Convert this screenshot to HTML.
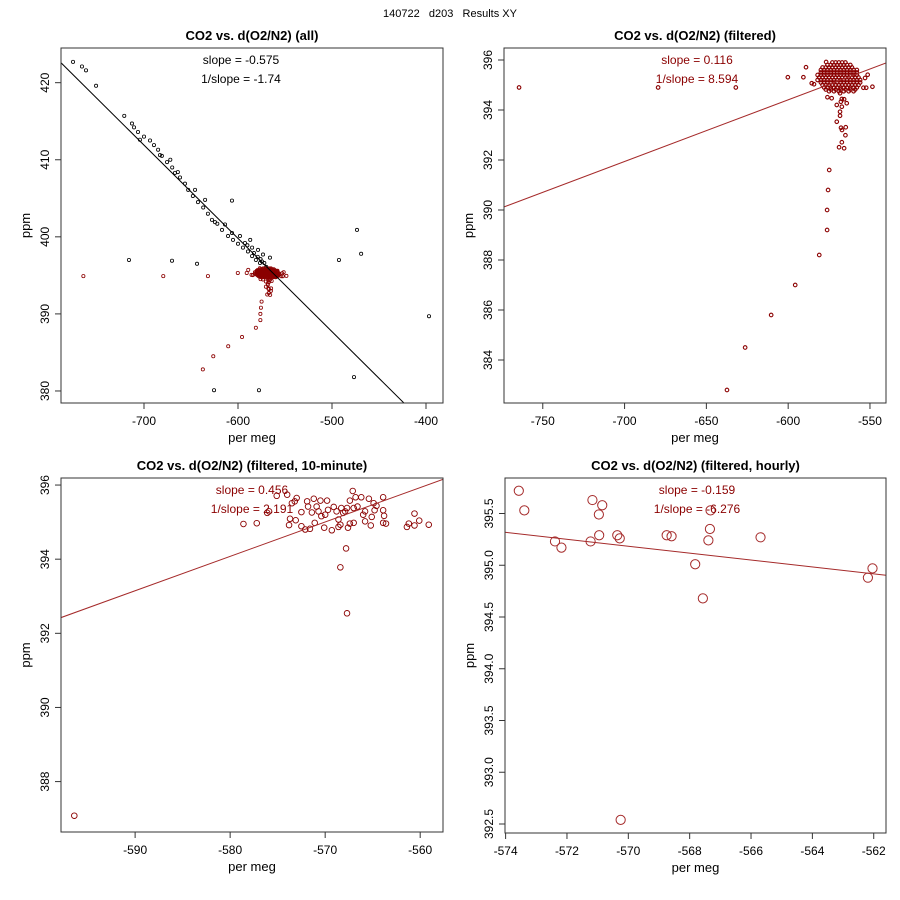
<!DOCTYPE html>
<html><head><meta charset="utf-8"><style>
html,body{margin:0;padding:0;background:#fff;}
svg{display:block;font-family:"Liberation Sans",sans-serif;}
</style></head><body>
<svg id="chart" width="900" height="900" viewBox="0 0 900 900">
<text x="450" y="17" text-anchor="middle" font-size="11" style="white-space:pre">140722   d203   Results XY</text>
</svg>
<script>
// ---------- data ----------
const allBlackX = [-775.5,-766,-761.7,-751,-721,-712.8,-710.6,-706.4,-700,-693.6,-689.4,-685,-681,-675.5,-670,-667,-661.7,-656.4,-653,-648,-642.6,-637,-632,-627.7,-622,-617,-610.6,-605.3,-600,-594.7,-589.4,-585,-581,-576.6,-570,-704.3,-683,-672,-664,-645.7,-635,-624.5,-613.8,-606.4,-592.6,-585,-578.7,-573.4,-566,-574.5,-587,-597.9,-583,-579,-576,-572,-590,-716,-670.2,-643.6,-606.4,-492.6,-473.4,-469,-396.8,-476.6,-577.7,-625.5];
const allBlackY = [422.7,422.1,421.6,419.6,415.7,414.7,414.2,413.6,413,412.5,411.9,411.3,410.5,409.7,409,408.3,407.7,406.9,406.1,405.3,404.5,403.8,403,402.2,401.7,400.9,400.1,399.6,399.1,398.6,398.1,397.5,397,396.6,396.1,412.6,410.6,410,408.4,406.1,404.8,401.9,401.6,400.5,399.2,398.6,398.3,397.7,397.3,396.8,399.6,400.1,397.9,397.4,397.1,396.6,398.9,397,396.9,396.5,404.7,397,400.9,397.8,389.7,381.8,380.1,380.1];

const filtX = [
-573,-571,-569,-567,-565,
-576,-574,-572,-570,-568,-566,-564,-562,
-579,-577,-575,-573,-571,-569,-567,-565,-563,-561,
-580,-578,-576,-574,-572,-570,-568,-566,-564,-562,-560,-558,
-580,-578,-576,-574,-572,-570,-568,-566,-564,-562,-560,-558,
-582,-580,-578,-576,-574,-572,-570,-568,-566,-564,-562,-560,-558,
-581,-579,-577,-575,-573,-571,-569,-567,-565,-563,-561,-559,-557,
-582,-580,-578,-576,-574,-572,-570,-568,-566,-564,-562,-560,-558,-556,
-580,-578,-576,-574,-572,-570,-568,-566,-564,-562,-560,-558,-556,
-579,-577,-575,-573,-571,-569,-567,-565,-563,-561,-559,-557,
-578,-576,-574,-572,-570,-568,-566,-564,-562,-560,-558,
-577,-574,-571,-568,-565,-562,-559,
-575,-572,-569,-566,-563,-560,
-600.2,-590.7,-589.1,-585.6,-584.2,-576.8,-551.4,-548.5,-553,-554,-552.3,
-576,-573.4,-568.3,-567.2,-565.8,-567.8,-564.2,-567.2,-570.3,-568.3,-568.3,-570.3,-567.7,-564.8,-567.1,-565,-567.2,-568.9,-565.8,
-574.9,-575.6,-576.2,-576.2,-581,-595.7,-610.4,-626.3,-637.4,-679.5,-632,-764.5];
const filtY = [
395.9,395.9,395.9,395.9,395.9,
395.8,395.8,395.8,395.8,395.8,395.8,395.8,395.8,
395.7,395.7,395.7,395.7,395.7,395.7,395.7,395.7,395.7,395.7,
395.6,395.6,395.6,395.6,395.6,395.6,395.6,395.6,395.6,395.6,395.6,395.6,
395.5,395.5,395.5,395.5,395.5,395.5,395.5,395.5,395.5,395.5,395.5,395.5,
395.4,395.4,395.4,395.4,395.4,395.4,395.4,395.4,395.4,395.4,395.4,395.4,395.4,
395.3,395.3,395.3,395.3,395.3,395.3,395.3,395.3,395.3,395.3,395.3,395.3,395.3,
395.2,395.2,395.2,395.2,395.2,395.2,395.2,395.2,395.2,395.2,395.2,395.2,395.2,395.2,
395.1,395.1,395.1,395.1,395.1,395.1,395.1,395.1,395.1,395.1,395.1,395.1,395.1,
395.0,395.0,395.0,395.0,395.0,395.0,395.0,395.0,395.0,395.0,395.0,395.0,
394.9,394.9,394.9,394.9,394.9,394.9,394.9,394.9,394.9,394.9,394.9,
394.82,394.82,394.82,394.82,394.82,394.82,394.82,
394.75,394.75,394.75,394.75,394.75,394.75,
395.31,395.31,395.71,395.07,395.03,395.92,395.41,394.93,395.28,394.89,394.89,
394.51,394.47,394.67,394.44,394.43,394.33,394.27,394.13,394.2,393.93,393.77,393.53,393.29,393.31,393.2,392.99,392.71,392.51,392.47,
391.6,390.8,390,389.2,388.2,387,385.8,384.5,382.8,394.9,394.9,394.9];

const tenX = [-578.6,-577.2,-576.1,-575.9,-575.1,-574.0,-573.7,-573.8,-573.1,-573.0,-573.5,-573.2,-572.5,-572.5,-572.1,-571.9,-571.8,-571.6,-571.4,-571.2,-571.1,-570.9,-570.7,-570.5,-570.4,-570.0,-569.8,-570.1,-569.7,-569.3,-569.1,-568.8,-568.6,-568.4,-568.6,-568.3,-568.1,-567.9,-567.7,-567.4,-567.1,-566.8,-567.6,-567.4,-567.0,-567.0,-567.8,-568.4,-567.7,-566.2,-566.6,-566.0,-565.8,-565.8,-565.4,-565.1,-565.2,-564.9,-564.8,-564.6,-563.9,-563.9,-563.8,-563.9,-563.6,-561.4,-561.2,-560.6,-560.6,-560.1,-559.1,-596.4];
const tenY = [394.95,394.97,395.25,395.29,395.71,395.74,395.09,394.92,395.05,395.65,395.51,395.56,395.27,394.89,394.80,395.56,395.42,394.82,395.26,395.63,394.98,395.42,395.29,395.58,395.16,395.20,395.58,394.85,395.33,394.78,395.41,395.29,395.07,394.93,394.87,395.38,395.25,395.29,395.38,395.58,395.84,395.67,394.85,394.96,394.98,395.38,394.29,393.78,392.54,395.67,395.42,395.20,395.29,395.02,395.63,395.14,394.91,395.51,395.32,395.44,395.67,395.32,395.17,394.98,394.96,394.87,394.96,395.23,394.91,395.04,394.93,387.08];

const hourX = [-573.57,-573.39,-572.39,-572.18,-571.23,-571.17,-570.85,-570.96,-570.95,-570.36,-570.28,-568.75,-568.59,-567.82,-567.57,-567.39,-567.34,-567.32,-565.69,-562.19,-562.04,-570.25];
const hourY = [395.72,395.53,395.23,395.17,395.23,395.63,395.58,395.49,395.29,395.29,395.26,395.29,395.28,395.01,394.68,395.24,395.35,395.53,395.27,394.88,394.97,392.54];

const fit1 = [327.2,-0.121];
const fit2 = [409.21,0.02467];
const fit3 = [447.9,0.0928];
const fit4 = [376.146,-0.0334];

const xt1 = [-700,-600,-500,-400], yt1 = [380,390,400,410,420];
const xt2 = [-750,-700,-650,-600,-550], yt2 = [384,386,388,390,392,394,396];
const xt3 = [-590,-580,-570,-560], yt3 = [388,390,392,394,396];
const xt4 = [-574,-572,-570,-568,-566,-564,-562], yt4 = [392.5,393.0,393.5,394.0,394.5,395.0,395.5];

// ---------- drawing ----------
const NS='http://www.w3.org/2000/svg';
const svg=document.getElementById('chart');
function mk(tag,attrs,parent){const e=document.createElementNS(NS,tag);for(const k in attrs)e.setAttribute(k,attrs[k]);(parent||svg).appendChild(e);return e;}
const RED='#8b0000';

function panel(o){
  const g=mk('g',{});
  
  
  const sx=v=>o.L+(v-o.x0)/(o.x1-o.x0)*(o.R-o.L);
  const sy=v=>o.B-(v-o.y0)/(o.y1-o.y0)*(o.B-o.T);
  const t=mk('text',{x:(o.L+o.R)/2,y:o.T-8,'text-anchor':'middle','font-size':13,'font-weight':'bold'},g);
  t.textContent=o.title;
  
  
  const cid='clip'+o.id;
  const cp=mk('clipPath',{id:cid},g);
  mk('rect',{x:o.L,y:o.T,width:o.R-o.L,height:o.B-o.T},cp);
  const pts=mk('g',{'clip-path':'url(#'+cid+')'},g);
  
  
  o.series.forEach(s=>{
    for(let i=0;i<s.x.length;i++){
      const c=mk('circle',{cx:sx(s.x[i]),cy:sy(s.y[i]),r:s.r,fill:'none',stroke:s.c,'stroke-width':s.w},pts);
      
      
    }
  });
  const ln=mk('line',{x1:sx(o.x0),y1:sy(o.fit[0]+o.fit[1]*o.x0),x2:sx(o.x1),y2:sy(o.fit[0]+o.fit[1]*o.x1),stroke:o.lc,'stroke-width':1,'clip-path':'url(#'+cid+')'},g);
  
  
  const box=mk('rect',{x:o.L,y:o.T,width:o.R-o.L,height:o.B-o.T,fill:'none',stroke:'#333','stroke-width':1},g);
  
  
  o.xt.forEach(v=>{
    const x=sx(v);
    mk('line',{x1:x,y1:o.B,x2:x,y2:o.B+6,stroke:'#333'},g);
    const tl=mk('text',{x:x,y:o.B+22,'text-anchor':'middle','font-size':12},g);
    tl.textContent=String(v);
    
    
  });
  o.yt.forEach(v=>{
    const y=sy(v);
    mk('line',{x1:o.L,y1:y,x2:o.L-6,y2:y,stroke:'#333'},g);
    const tl=mk('text',{x:o.L-12,y:y,'text-anchor':'middle','font-size':12,transform:'rotate(-90 '+(o.L-12)+' '+y+')'},g);
    tl.textContent=o.yd?v.toFixed(1):String(v);
    
    
  });
  const xl=mk('text',{x:(o.L+o.R)/2,y:o.B+39,'text-anchor':'middle','font-size':13},g);
  xl.textContent='per meg';
  
  
  const yx=o.L-31, yy=(o.T+o.B)/2;
  const yl=mk('text',{x:yx,y:yy,'text-anchor':'middle','font-size':13,transform:'rotate(-90 '+yx+' '+yy+')'},g);
  yl.textContent='ppm';
  
  
  o.notes.forEach((n,i)=>{
    const a=mk('text',{x:o.nx,y:o.ny+i*19,'text-anchor':'middle','font-size':12,fill:o.nc},g);
    a.textContent=n;
    
    
  });
}

panel({id:1,name:'panel-all',title:'CO2 vs. d(O2/N2) (all)',L:61,R:443,T:48,B:403,x0:-788.3,x1:-381.9,y0:378.44,y1:424.5,
  series:[{x:allBlackX,y:allBlackY,r:1.6,w:0.8,c:'#000'},{x:filtX,y:filtY,r:1.6,w:0.8,c:RED}],
  fit:fit1,lc:'#000',xt:xt1,yt:yt1,notes:['slope = -0.575','1/slope = -1.74'],nx:241,ny:64,nc:'#000'});
panel({id:2,name:'panel-filtered',title:'CO2 vs. d(O2/N2) (filtered)',L:504,R:886,T:48,B:403,x0:-773.7,x1:-540.2,y0:382.28,y1:396.48,
  series:[{x:filtX,y:filtY,r:1.8,w:1.1,c:RED}],
  fit:fit2,lc:'#a52a2a',xt:xt2,yt:yt2,notes:['slope = 0.116','1/slope = 8.594'],nx:697,ny:64,nc:RED});
panel({id:3,name:'panel-10-minute',title:'CO2 vs. d(O2/N2) (filtered, 10-minute)',L:61,R:443,T:478,B:832,x0:-597.8,x1:-557.6,y0:386.64,y1:396.19,
  series:[{x:tenX,y:tenY,r:2.8,w:0.9,c:RED}],
  fit:fit3,lc:'#a52a2a',xt:xt3,yt:yt3,notes:['slope = 0.456','1/slope = 2.191'],nx:252,ny:494,nc:RED});
panel({id:4,name:'panel-hourly',title:'CO2 vs. d(O2/N2) (filtered, hourly)',L:505,R:886,T:478,B:833,x0:-574.02,x1:-561.6,y0:392.413,y1:395.843,yd:true,
  series:[{x:hourX,y:hourY,r:4.6,w:1,c:'#a52a2a'}],
  fit:fit4,lc:'#a52a2a',xt:xt4,yt:yt4,notes:['slope = -0.159','1/slope = -6.276'],nx:697,ny:494,nc:RED});
</script>
</body></html>
